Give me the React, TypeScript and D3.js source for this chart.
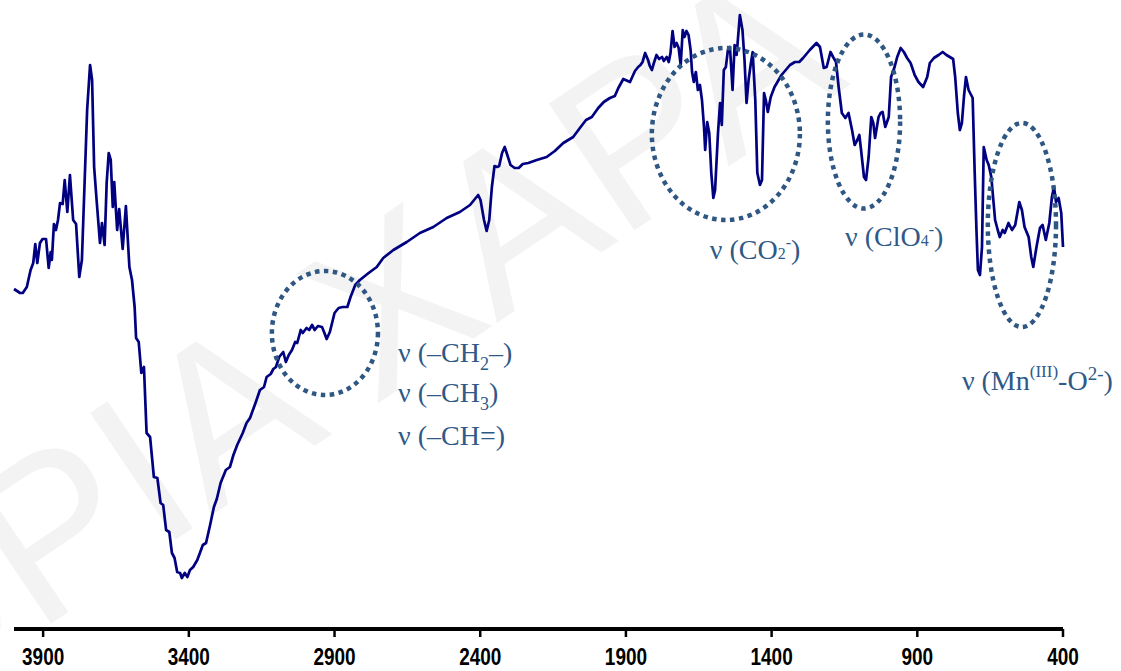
import React from "react";
import * as d3 from "d3";

// Wavenumber (cm^-1) and transmittance (arbitrary %)
const wavenumbers = [
  4000, 3979, 3970, 3956, 3943, 3934, 3927, 3920, 3911, 3902, 3890, 3881, 3874, 3870, 3863, 3856, 3849, 3842, 3833, 3826,
  3817, 3808, 3797, 3787, 3776, 3767, 3749, 3739, 3732, 3725, 3716, 3705, 3698, 3689, 3682, 3675, 3668, 3661, 3656, 3646,
  3639, 3627, 3616, 3604, 3595, 3586, 3581, 3572, 3563, 3554, 3545, 3533, 3520, 3508, 3497, 3488, 3478, 3467, 3458, 3449,
  3440, 3430, 3424, 3414, 3405, 3396, 3385, 3371, 3362, 3352, 3341, 3327, 3314, 3304, 3291, 3273, 3259, 3247, 3234, 3215,
  3202, 3190, 3170, 3156, 3142, 3133, 3119, 3110, 3101, 3090, 3076, 3067, 3057, 3046, 3035, 3028, 3016, 3009, 2996, 2987,
  2977, 2968, 2957, 2943, 2936, 2927, 2916, 2900, 2886, 2872, 2856, 2845, 2829, 2813, 2783, 2755, 2733, 2698, 2652, 2607,
  2561, 2515, 2470, 2435, 2407, 2399, 2387, 2378, 2369, 2360, 2351, 2342, 2335, 2325, 2316, 2307, 2296, 2282, 2268, 2254,
  2235, 2206, 2172, 2144, 2115, 2081, 2058, 2037, 2017, 1995, 1976, 1955, 1938, 1926, 1909, 1886, 1869, 1858, 1850, 1843,
  1834, 1824, 1818, 1811, 1804, 1795, 1786, 1776, 1770, 1760, 1753, 1747, 1740, 1733, 1726, 1719, 1712, 1705, 1699, 1692,
  1685, 1678, 1673, 1667, 1660, 1653, 1646, 1639, 1632, 1628, 1621, 1614, 1607, 1600, 1594, 1584, 1577, 1571, 1564, 1557,
  1550, 1543, 1534, 1527, 1520, 1509, 1500, 1493, 1486, 1479, 1472, 1465, 1456, 1449, 1440, 1433, 1426, 1420, 1413, 1403,
  1390, 1366, 1337, 1320, 1305, 1292, 1269, 1246, 1234, 1221, 1211, 1198, 1189, 1179, 1170, 1159, 1147, 1136, 1124, 1115,
  1106, 1099, 1093, 1083, 1076, 1067, 1058, 1051, 1045, 1033, 1026, 1019, 1010, 998, 990, 978, 969, 957, 946, 935,
  923, 909, 896, 880, 866, 857, 843, 827, 813, 800, 777, 770, 761, 754, 747, 740, 733, 724, 710, 703,
  697, 692, 685, 678, 672, 662, 655, 646, 640, 633, 624, 617, 607, 600, 587, 575, 564, 550, 541, 532,
  518, 509, 502, 491, 479, 470, 459, 447, 438, 431, 424, 415, 406, 400,
];
const transmittance = [
  31.1, 30.7, 30.7, 31.3, 33.0, 33.7, 35.6, 33.7, 35.7, 36.1, 36.1, 33.2, 34.8, 34.0, 37.6, 37.0, 38.0, 39.7, 39.6, 42.0,
  38.8, 42.5, 38.0, 37.6, 32.3, 34.0, 49.0, 53.5, 52.0, 43.3, 39.8, 35.7, 37.7, 35.5, 41.7, 44.7, 44.0, 39.3, 41.8, 37.0,
  39.1, 35.1, 39.4, 33.3, 32.0, 29.3, 26.2, 25.8, 22.7, 23.3, 16.7, 16.3, 12.3, 12.2, 9.7, 9.5, 7.0, 6.8, 4.7, 4.2,
  2.8, 2.7, 2.2, 2.7, 2.3, 3.0, 3.3, 4.0, 4.7, 5.5, 5.7, 7.5, 9.3, 10.1, 11.7, 13.0, 13.3, 14.5, 15.5, 16.7,
  17.7, 18.2, 19.8, 21.0, 21.3, 22.3, 22.6, 23.1, 23.3, 24.3, 24.8, 23.8, 24.5, 25.0, 25.8, 25.7, 27.0, 26.7, 27.2, 27.0,
  27.5, 27.0, 27.4, 27.3, 26.8, 26.1, 26.8, 28.7, 29.2, 29.3, 29.3, 30.3, 31.5, 32.0, 32.7, 33.3, 34.2, 35.0, 35.8, 36.7,
  37.3, 38.2, 38.8, 39.5, 40.5, 40.0, 38.0, 36.9, 38.0, 41.3, 43.4, 43.3, 43.4, 44.7, 45.3, 44.5, 43.5, 43.2, 43.2, 43.6,
  43.7, 44.0, 44.3, 44.9, 45.7, 46.3, 47.2, 48.0, 48.3, 49.2, 49.8, 50.2, 50.4, 51.2, 52.1, 51.8, 52.9, 53.3, 53.5, 53.8,
  54.7, 54.0, 53.4, 53.0, 53.7, 54.5, 54.1, 54.3, 53.9, 54.3, 53.8, 54.7, 56.9, 55.3, 55.7, 55.2, 53.5, 57.0, 56.3, 56.9,
  56.5, 55.0, 52.8, 51.8, 52.8, 51.0, 51.5, 50.0, 47.3, 45.0, 47.8, 46.7, 42.7, 40.2, 41.0, 46.7, 49.7, 47.5, 53.0, 53.3,
  55.0, 55.3, 51.0, 55.5, 54.5, 58.5, 57.0, 54.0, 49.7, 52.0, 53.5, 54.8, 50.0, 42.7, 41.5, 42.0, 50.7, 50.0, 48.8, 50.3,
  51.3, 52.5, 53.5, 53.8, 53.8, 54.2, 55.0, 55.7, 55.3, 53.2, 53.3, 54.8, 54.3, 53.8, 51.3, 48.7, 48.2, 48.7, 47.0, 45.5,
  46.0, 46.5, 45.0, 42.3, 42.0, 44.3, 48.3, 47.7, 46.2, 48.3, 48.7, 48.8, 47.3, 48.3, 52.3, 53.3, 54.3, 55.2, 54.8, 54.2,
  53.7, 52.5, 51.8, 51.3, 52.3, 53.7, 54.2, 54.5, 54.8, 54.5, 54.1, 52.3, 48.7, 47.0, 47.7, 50.3, 52.3, 51.0, 50.2, 42.7,
  37.0, 33.0, 32.5, 35.3, 45.3, 44.0, 43.5, 42.3, 40.3, 38.0, 37.0, 36.3, 37.0, 36.7, 37.7, 37.0, 37.5, 39.8, 39.0, 37.3,
  36.3, 34.3, 33.3, 35.3, 37.2, 37.5, 36.0, 37.7, 40.3, 41.3, 39.8, 40.2, 38.7, 35.3,
];

const tickValues = [3900, 3400, 2900, 2400, 1900, 1400, 900, 400];

// Band annotations (ellipse centre / radii in data units)
const bandNames = ["CH", "CO2", "ClO4", "MnO"];
const bandCenterWn = [2933, 1557, 1083, 541];
const bandCenterT = [26.7, 46.6, 47.85, 37.5];
const bandRadiusWn = [182, 254, 124, 117];
const bandRadiusT = [6.2, 8.6, 8.7, 10.2];

const W = 1121;
const H = 671;
const AXIS_Y = 629;

export default function App() {
  const x = d3.scaleLinear().domain([4000, 400]).range([14, 1063]);
  const y = d3.scaleLinear().domain([0, 60]).range([600, 0]);

  const pts: [number, number][] = wavenumbers.map((w, i) => [w, transmittance[i]]);
  const line = d3
    .line<[number, number]>()
    .x((d) => x(d[0]))
    .y((d) => y(d[1]))
    .curve(d3.curveLinear);

  const labelColor = "#2f5987";
  const ellColor = "#2f5784";
  const serif = "'Liberation Serif', 'Times New Roman', serif";

  const ellipses = bandNames.map((n, i) => {
    const cx = x(bandCenterWn[i]);
    const cy = y(bandCenterT[i]);
    const rx = Math.abs(x(bandCenterWn[i] + bandRadiusWn[i]) - cx);
    const ry = Math.abs(y(bandCenterT[i] + bandRadiusT[i]) - cy);
    return { n, cx, cy, rx, ry };
  });

  const fs = 28;
  const small = 18;

  return (
    <svg
      width={W}
      height={H}
      style={{ position: "absolute", left: 0, top: 0, background: "#fff" }}
    >
      {/* watermark */}
      <text
        x={-240}
        y={820}
        transform="rotate(-34 -240 820)"
        fontFamily="'Liberation Sans', Arial, sans-serif"
        fontSize={222}
        fill="#f3f3f3"
      >
        COPIA XAPA
      </text>

      {/* spectrum */}
      <path d={line(pts) || ""} fill="none" stroke="#000080" strokeWidth={2.7} strokeLinejoin="round" />

      {/* ellipses */}
      {ellipses.map((e) => (
        <ellipse
          key={e.n}
          cx={e.cx}
          cy={e.cy}
          rx={e.rx}
          ry={e.ry}
          fill="none"
          stroke={ellColor}
          strokeWidth={4.5}
          strokeDasharray="4.5 4.5"
        />
      ))}

      {/* labels */}
      <g fontFamily={serif} fontSize={fs} fill={labelColor}>
        <text x={x(2682)} y={y(23.8)}>
          ν (–CH<tspan fontSize={small} dy={8}>2</tspan>
          <tspan dy={-8}>–)</tspan>
        </text>
        <text x={x(2682)} y={y(19.8)}>
          ν (–CH<tspan fontSize={small} dy={8}>3</tspan>
          <tspan dy={-8}>)</tspan>
        </text>
        <text x={x(2682)} y={y(15.5)}>ν (–CH=)</text>
        <text x={x(1612)} y={y(34.1)}>
          ν (CO<tspan fontSize={16}>2</tspan>
          <tspan fontSize={16} dy={-11}>-</tspan>
          <tspan dy={11}>)</tspan>
        </text>
        <text x={x(1148)} y={y(35.4)}>
          ν (ClO<tspan fontSize={16}>4</tspan>
          <tspan fontSize={16} dy={-11}>-</tspan>
          <tspan dy={11}>)</tspan>
        </text>
        <text x={x(747)} y={y(21.0)}>
          ν (Mn<tspan fontSize={17} dy={-13}>(III)</tspan>
          <tspan dy={13}>-O</tspan>
          <tspan fontSize={19} dy={-10}>2-</tspan>
          <tspan dy={10}>)</tspan>
        </text>
      </g>

      {/* x axis */}
      <line x1={x(4000)} x2={x(400)} y1={AXIS_Y} y2={AXIS_Y} stroke="#000" strokeWidth={4} />
      {tickValues.map((t) => (
        <g key={t}>
          <line x1={x(t)} x2={x(t)} y1={AXIS_Y} y2={AXIS_Y + 8} stroke="#000" strokeWidth={2.5} />
          <text
            transform={`translate(${x(t)},665) scale(0.79,1)`}
            textAnchor="middle"
            fontFamily="'Liberation Sans', Arial, sans-serif"
            fontWeight="bold"
            fontSize={24}
            fill="#000"
          >
            {t}
          </text>
        </g>
      ))}
    </svg>
  );
}
